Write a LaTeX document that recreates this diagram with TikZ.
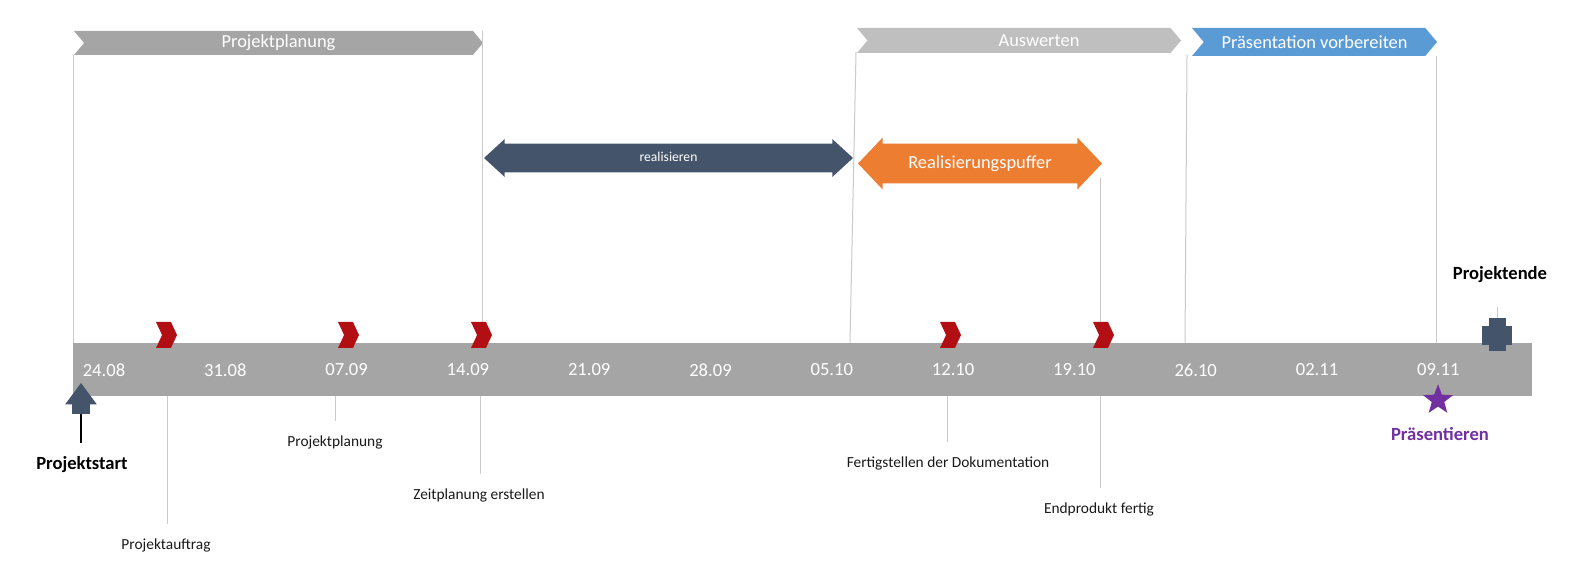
\documentclass[tikz,border=0pt]{standalone}
\usepackage{fontspec}
\setmainfont{Carlito}
\usepackage{tikz}
\usetikzlibrary{positioning, shapes.symbols, shapes.arrows, shapes.geometric}
\definecolor{bargray}{HTML}{A5A5A5}
\definecolor{evalgray}{HTML}{BFBFBF}
\definecolor{presblue}{HTML}{5B9BD5}
\definecolor{slate}{HTML}{44546A}
\definecolor{bufferorange}{HTML}{ED7D31}
\definecolor{milered}{HTML}{B20F14}
\definecolor{presviolet}{HTML}{7030A0}
\definecolor{guidegray}{HTML}{CACACA}

\begin{document}
\begin{tikzpicture}[x=0.5pt, y=-0.5pt,
        banner/.style={signal, signal from=west, signal to=east, signal pointer angle=100, inner sep=0, text=white, font=\fontsize{9.2}{11}\selectfont},
        milestone/.style={signal, signal from=west, signal to=east, signal pointer angle=130, inner sep=0, minimum width=10.5pt, minimum height=13pt, fill=milered},
        span/.style={double arrow, inner xsep=0, text=white},
        guide/.style={draw=guidegray, line width=0.5pt},
        note/.style={font=\fontsize{7.7}{9}\selectfont, text=black!90},
        datetext/.style={text=white, font=\fontsize{9.3}{11}\selectfont},
        keylabel/.style={font=\bfseries\fontsize{9.3}{11}\selectfont}
    ]
        \useasboundingbox (0,0) rectangle (1577,576);

        % Timeline bar
        \node[fill=bargray, inner sep=0, minimum width=729.5pt, minimum height=26.5pt] (bar) at (802.5,369.5) {};

        % Phase banners
        \node[banner, fill=bargray, minimum width=204.5pt, minimum height=12pt] (plan) at (278.5,43) {Projektplanung};
        \node[banner, fill=evalgray, minimum width=162pt, minimum height=12.5pt] (eval) at (1019,40.5) {\hspace*{20pt}Auswerten};
        \node[banner, fill=presblue, minimum width=122.5pt, minimum height=14pt] (pres) at (1314.5,42) {Präsentation vorbereiten};

        % Guide lines from the banners down to the bar
        \coordinate (evaltop) at (856,52);
        \coordinate (prestop) at (1187,55);
        \coordinate (fertigtop) at (1100,178);
        \draw[guide] (plan.south west) -- (plan.south west |- bar.north);
        \draw[guide] ([xshift=-0.5pt]plan.east |- plan.north) -- ([xshift=-0.5pt]plan.east |- bar.north);
        \draw[guide] (evaltop) -- ([xshift=-3pt]evaltop |- bar.north);
        \draw[guide] (prestop) -- ([xshift=-1pt]prestop |- bar.north);
        \draw[guide] ([xshift=-0.5pt]pres.east |- pres.south) -- ([xshift=-0.5pt]pres.east |- bar.north);
        \draw[guide] (fertigtop) -- (fertigtop |- bar.north);

        % Work spans
        \node[span, fill=slate, minimum height=184.5pt, minimum width=18.5pt, double arrow head extend=2.25pt, double arrow tip angle=85, inner ysep=3.75pt, text height=5pt, text depth=1.5pt, font=\fontsize{6.8}{8}\selectfont] (real) at (668.5,158) {realisieren};
        \node[span, fill=bufferorange, minimum height=122pt, minimum width=25.5pt, double arrow head extend=3pt, double arrow tip angle=93, inner ysep=5.25pt, text height=7pt, text depth=2pt, font=\fontsize{9.2}{11}\selectfont] (buffer) at (980,163.5) {Realisierungspuffer};

        % Dates
        \foreach \d [count=\i from 0] in {24.08,31.08,07.09,14.09,21.09,28.09,05.10,12.10,19.10,26.10,02.11,09.11}
            \node[datetext] (date\i) at ({104+121.3*\i},370) {\d};

        % Milestones
        \foreach \x [count=\i] in {166.5,348.5,481.5,950.5,1103.5}
            \node[milestone] (ms\i) at (\x,335) {};

        % Project start
        \node[single arrow, rotate=90, fill=slate, inner xsep=0, inner ysep=4.25pt, minimum height=15.5pt, minimum width=15.5pt, single arrow head extend=3.5pt, single arrow tip angle=73] (start) at (81,404.5) {};
        \node[keylabel] (startlbl) at (82,465) {Projektstart};
        \draw[black, line width=0.7pt] (start.tail) -- ([yshift=3.5pt]startlbl.north -| start.tail);

        % Notes below the bar
        \node[note] (auftrag) at (166,545) {Projektauftrag};
        \node[note] (planung) at (335,442) {Projektplanung};
        \node[note] (zeit) at (479,495) {Zeitplanung erstellen};
        \node[note] (doku) at (948,463) {Fertigstellen der Dokumentation};
        \node[note] (fertig) at (1099,509) {Endprodukt fertig};
        \draw[guide] (167,396) -- ([yshift=3.5pt]auftrag.north -| 167,0);
        \draw[guide] (335,396) -- ([yshift=3.5pt]planung.north);
        \draw[guide] (480,396) -- ([yshift=3.5pt]zeit.north -| 480,0);
        \draw[guide] (947,396) -- ([yshift=3.5pt]doku.north -| 947,0);
        \draw[guide] (1100,396) -- ([yshift=3.5pt]fertig.north -| 1100,0);

        % Presentation
        \node[star, star points=5, star point ratio=2.4, fill=presviolet, minimum size=15.8pt, inner sep=0] (present) at (1438,400) {};
        \node[keylabel, text=presviolet] (presentlbl) at (1440,434) {Präsentieren};

        % Project end
        \node[fill=slate, inner sep=0, minimum width=8.5pt, minimum height=16.5pt] (endv) at (1497,334.5) {};
        \node[fill=slate, inner sep=0, minimum width=15pt, minimum height=9.5pt] (endh) at (1497,336) {};
        \node[keylabel] (endlbl) at (1500,275) {Projektende};
        \draw[guide] (1497,307) -- (endv.north);
    \end{tikzpicture}
\end{document}
